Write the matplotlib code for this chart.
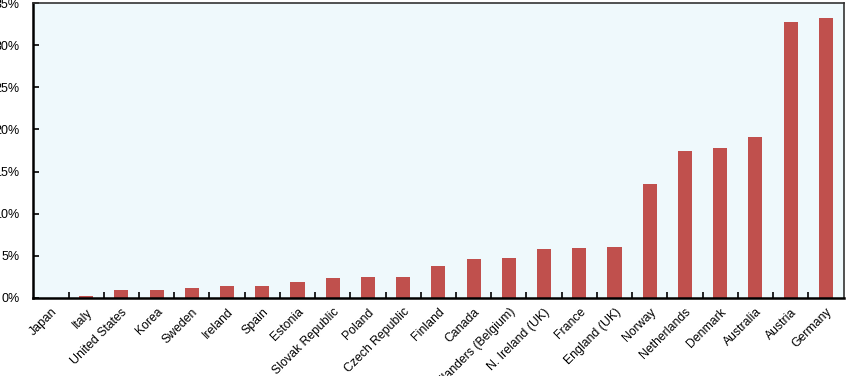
"""
Bar chart: share by country, sorted ascending (recreated from reference).
"""

from __future__ import annotations

import matplotlib

matplotlib.use("Agg")
import matplotlib.pyplot as plt
import numpy as np
from matplotlib.ticker import FuncFormatter, MultipleLocator

COUNTRIES = [
    "Japan",
    "Italy",
    "United States",
    "Korea",
    "Sweden",
    "Ireland",
    "Spain",
    "Estonia",
    "Slovak Republic",
    "Poland",
    "Czech Republic",
    "Finland",
    "Canada",
    "Flanders (Belgium)",
    "N. Ireland (UK)",
    "France",
    "England (UK)",
    "Norway",
    "Netherlands",
    "Denmark",
    "Australia",
    "Austria",
    "Germany",
]

# percent
SHARE = [
    0.0, 0.15, 0.9, 0.9, 1.1, 1.4, 1.45, 1.85, 2.3, 2.45, 2.45, 3.8,
    4.6, 4.7, 5.75, 5.9, 6.05, 13.55, 17.4, 17.75, 19.1, 32.8, 33.2,
]

Y_TICKS = [0, 5, 10, 15, 20, 25, 30, 35]

BAR_COLOR = "#C0504D"
PANEL_COLOR = "#EFF9FC"
OUT_PATH = "out.png"


def plot(out_path: str = OUT_PATH) -> None:
    plt.rcParams["font.family"] = ["Liberation Sans", "DejaVu Sans"]

    fig = plt.figure(figsize=(8.51, 3.76), dpi=100)
    ax = fig.add_axes([0.0391, 0.2082, 0.9521, 0.7830])
    ax.set_facecolor(PANEL_COLOR)

    x = np.arange(len(COUNTRIES))
    ax.bar(x, SHARE, width=0.40, color=BAR_COLOR, zorder=2)

    ax.set_xlim(-0.5, len(COUNTRIES) - 0.5)
    ax.set_ylim(Y_TICKS[0], Y_TICKS[-1])

    # y axis: inward ticks every 5 %
    ax.yaxis.set_major_locator(MultipleLocator(5))
    ax.yaxis.set_major_formatter(FuncFormatter(lambda v, _: f"{v:.0f}%"))
    ax.tick_params(
        axis="y", direction="in", length=4, width=1.2,
        labelsize=9, pad=9.8, color="black",
    )

    # x axis: boundary ticks between categories, labels on the category centres
    ax.set_xticks(x[:-1] + 0.5)
    ax.set_xticklabels([])
    ax.tick_params(axis="x", direction="in", length=4, width=1.2, color="black")
    ax.set_xticks(x, minor=True)
    ax.set_xticklabels(
        COUNTRIES, minor=True, rotation=45, ha="right",
        rotation_mode="anchor", fontsize=8.8,
    )
    ax.tick_params(axis="x", which="minor", length=0, pad=6)

    for side in ("left", "bottom"):
        ax.spines[side].set_linewidth(1.8)
        ax.spines[side].set_color("black")
    for side in ("top", "right"):
        ax.spines[side].set_linewidth(1.2)
        ax.spines[side].set_color("#333333")

    fig.savefig(out_path, dpi=100)
    plt.close(fig)


if __name__ == "__main__":
    plot()
